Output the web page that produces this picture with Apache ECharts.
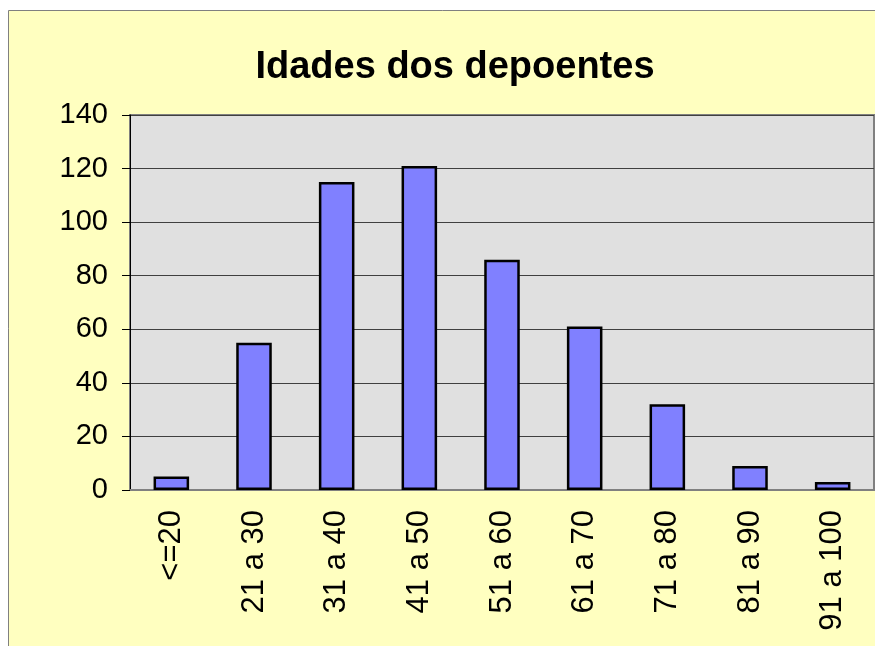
<!DOCTYPE html>
<html>
<head>
<meta charset="utf-8">
<script src="https://cdn.jsdelivr.net/npm/echarts@6/dist/echarts.min.js"></script>
<style>
  html, body { margin: 0; padding: 0; background: #ffffff; }
  #chart { width: 875px; height: 646px; }
</style>
</head>
<body>
<div id="chart"></div>
<script>
    // faixas etárias e contagens
    const ageGroups = ['<=20', '21 a 30', '31 a 40', '41 a 50', '51 a 60', '61 a 70', '71 a 80', '81 a 90', '91 a 100'];
    const counts = [5, 55, 115, 121, 86, 61, 32, 9, 3];
    const yTicks = { min: 0, max: 140, interval: 20 };

    const chart = echarts.init(document.getElementById('chart'));
    const font = 'Arial, "Liberation Sans", sans-serif';

    chart.setOption({
        animation: false,
        backgroundColor: '#ffffff',
        graphic: [{
            type: 'rect',
            z: -10,
            shape: { x: 8.5, y: 10.5, width: 900, height: 700 },
            style: { fill: '#ffffc0', stroke: '#808080', lineWidth: 1 },
        }],
        title: {
            text: 'Idades dos depoentes',
            left: 450,
            top: 44,
            textAlign: 'center',
            textStyle: { fontFamily: font, fontSize: 38, fontWeight: 'bold', color: '#000' },
        },
        grid: {
            left: 130,
            top: 115,
            right: 1,
            bottom: 156,
            show: true,
            backgroundColor: '#e0e0e0',
            borderColor: '#808080',
            borderWidth: 2,
        },
        xAxis: [{
            type: 'category',
            data: ageGroups,
            axisLine: { lineStyle: { color: '#808080', width: 2 } },
            axisTick: { length: 8, lineStyle: { color: '#000' } },
            axisLabel: {
                rotate: 90,
                margin: 20,
                fontFamily: font,
                fontSize: 31,
                color: '#000',
            },
        }, {
            type: 'category',
            data: ageGroups,
            position: 'bottom',
            axisLine: { show: false },
            axisTick: { inside: true, length: 8, lineStyle: { color: '#000' } },
            axisLabel: { show: false },
        }],
        yAxis: {
            type: 'value',
            min: yTicks.min,
            max: yTicks.max,
            interval: yTicks.interval,
            axisLine: { show: true, lineStyle: { color: '#000', width: 1 } },
            axisTick: { show: true, length: 8, lineStyle: { color: '#000' } },
            axisLabel: { margin: 22, fontFamily: font, fontSize: 29, color: '#000' },
            splitLine: { lineStyle: { color: '#404040', width: 1 } },
        },
        series: [{
            type: 'bar',
            data: counts,
            barWidth: '43%',
            itemStyle: { color: '#8080ff', borderColor: '#000', borderWidth: 2.5 },
        }],
    });
</script>
</body>
</html>
